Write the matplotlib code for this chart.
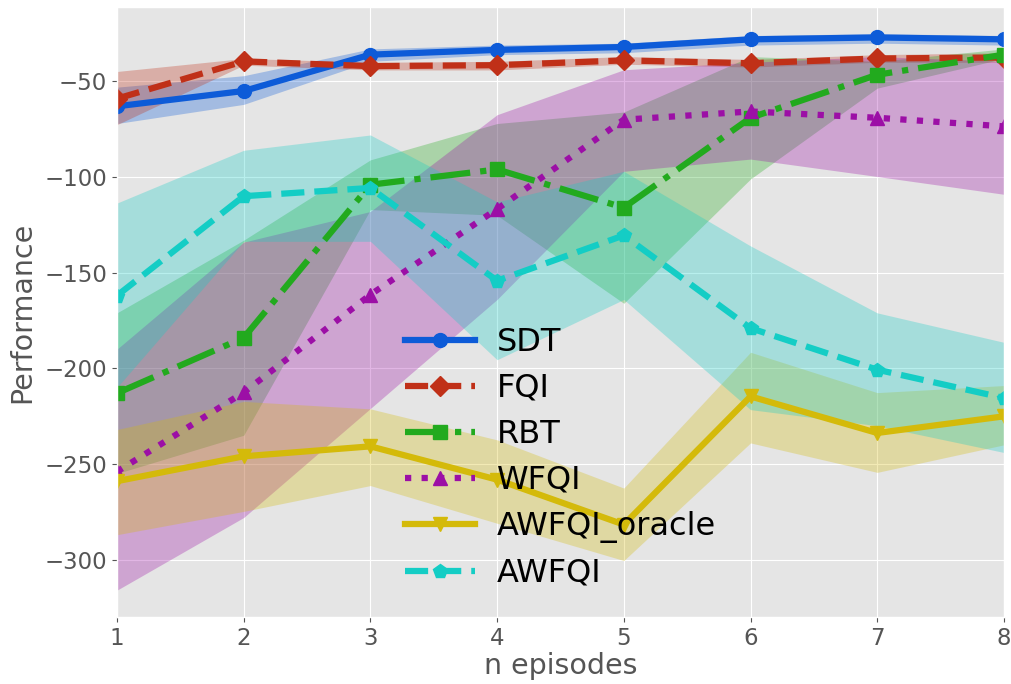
import matplotlib
matplotlib.use("Agg")
import matplotlib.pyplot as plt
import numpy as np

plt.style.use("ggplot")

episodes = [1, 2, 3, 4, 5, 6, 7, 8]

sdt_mean = [-63, -55, -36, -33.5, -32, -28, -27, -28]
sdt_lo = [-72, -62, -39.5, -36, -35, -31, -30, -31]
sdt_hi = [-53, -47, -33, -31, -30, -26, -25, -26]

fqi_mean = [-59, -39.5, -42, -41.5, -39, -40.5, -38, -37.5]
fqi_lo = [-72.6, -41.5, -44, -44, -41, -42.5, -40, -40]
fqi_hi = [-44.8, -38, -40, -39.5, -37, -38.5, -36, -35]

rbt_mean = [-213, -184, -104, -96, -116, -69, -46.5, -36]
rbt_lo = [-255, -235, -117, -120, -166, -101, -53.5, -38]
rbt_hi = [-171, -133, -91, -72, -66, -37, -39.5, -33]

wfqi_mean = [-254, -212.6, -161.5, -116.7, -70, -65.7, -69, -73.5]
wfqi_lo = [-316, -278, -221, -164, -97, -90.6, -99.7, -109]
wfqi_hi = [-190, -134, -118, -67.4, -43.9, -40, -37, -39.5]

oracle_mean = [-259, -246, -240.8, -258.2, -281.7, -214.7, -233.8, -225.1]
oracle_lo = [-287, -274.8, -261.3, -281, -300.5, -239, -254.4, -240]
oracle_hi = [-232, -217.3, -221.2, -237.4, -262.6, -191.6, -212.7, -209]

awfqi_mean = [-162, -110, -105.7, -154.2, -130.5, -179, -200.7, -215.5]
awfqi_lo = [-210, -133.6, -133.6, -195.5, -164, -221.6, -230, -244]
awfqi_hi = [-113.6, -86, -78, -113, -97, -136, -171, -186.4]

series = [
    ("SDT", sdt_mean, sdt_lo, sdt_hi, "#0d5bd8", "-", "o"),
    ("FQI", fqi_mean, fqi_lo, fqi_hi, "#c03018", "--", "D"),
    ("RBT", rbt_mean, rbt_lo, rbt_hi, "#22aa1e", "-.", "s"),
    ("WFQI", wfqi_mean, wfqi_lo, wfqi_hi, "#9c0fa6", ":", "^"),
    ("AWFQI_oracle", oracle_mean, oracle_lo, oracle_hi, "#d4ba0a", "-", "v"),
    ("AWFQI", awfqi_mean, awfqi_lo, awfqi_hi, "#14cdc5", "--", "p"),
]

fig = plt.figure(figsize=(10.11, 6.84), dpi=100)
ax = fig.add_axes([0.1157, 0.098, 0.8773, 0.892])

for name, m, lo, hi, c, ls, mk in series:
    ax.fill_between(episodes, lo, hi, color=c, alpha=0.3, linewidth=0)
    ax.plot(episodes, m, color=c, linestyle=ls, marker=mk, linewidth=4.5,
            markersize=10, label=name)

ax.set_xlim(1, 8)
ax.set_ylim(-330, -11)
ax.set_yticks([-300, -250, -200, -150, -100, -50])
ax.tick_params(labelsize=16.5, colors="#555555")
ax.set_xlabel("n episodes", fontsize=20.5, color="#555555", labelpad=2)
ax.set_ylabel("Performance", fontsize=20.5, color="#555555", labelpad=6)

ax.legend(loc="center", bbox_to_anchor=(0.5, 0.261), frameon=False,
          fontsize=23, handlelength=2.2, handletextpad=0.7,
          labelspacing=0.47, numpoints=1)

fig.savefig("out.png", dpi=100)
